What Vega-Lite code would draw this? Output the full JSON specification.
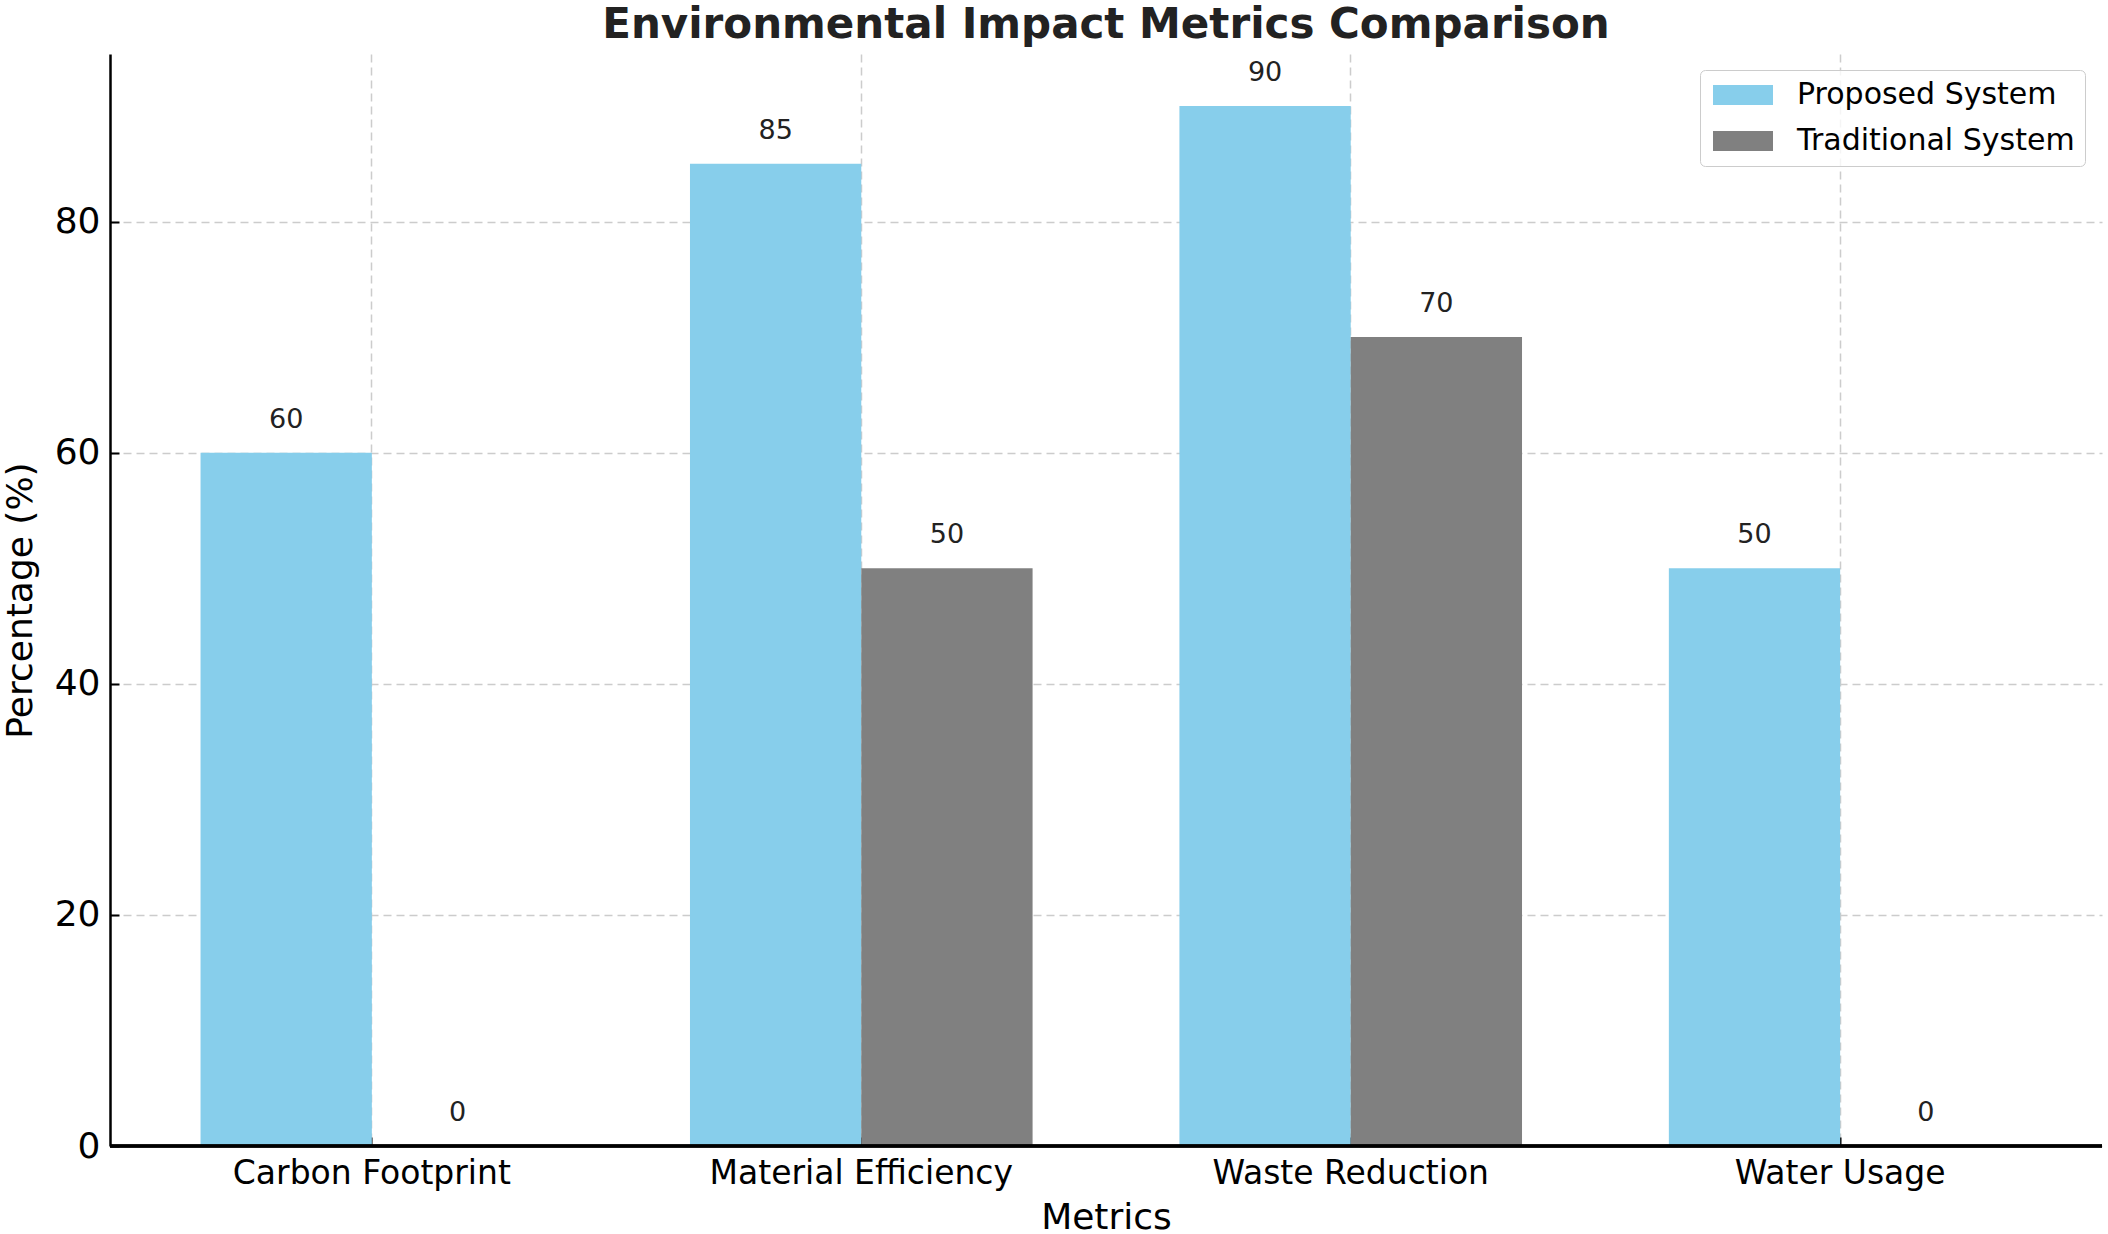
{
  "$schema": "https://vega.github.io/schema/vega-lite/v6.json",
  "width": 1992,
  "height": 1092,
  "autosize": {"type": "none"},
  "padding": {"left": 110, "top": 54, "right": 6, "bottom": 88},
  "background": "white",
  "title": {"text": "Environmental Impact Metrics Comparison", "fontSize": 42, "font": "DejaVu Sans", "fontWeight": "bold", "color": "#222222", "anchor": "middle", "offset": 7, "frame": "group"},
  "config": {"view": {"stroke": null}, "font": "DejaVu Sans"},
  "data": {"values": [
    {"metric": "Carbon Footprint", "system": "Proposed System", "value": 60},
    {"metric": "Carbon Footprint", "system": "Traditional System", "value": 0},
    {"metric": "Material Efficiency", "system": "Proposed System", "value": 85},
    {"metric": "Material Efficiency", "system": "Traditional System", "value": 50},
    {"metric": "Waste Reduction", "system": "Proposed System", "value": 90},
    {"metric": "Waste Reduction", "system": "Traditional System", "value": 70},
    {"metric": "Water Usage", "system": "Proposed System", "value": 50},
    {"metric": "Water Usage", "system": "Traditional System", "value": 0}
  ]},
  "layer": [
    {
      "mark": {"type": "bar"},
      "encoding": {
        "x": {"field": "metric", "type": "nominal", "sort": null,
          "scale": {"paddingInner": 0.3, "paddingOuter": 0.185},
          "axis": {"title": "Metrics", "labelAngle": 0, "labelLimit": 0, "grid": true, "gridColor": "#cccccc", "gridDash": [8, 5], "gridWidth": 1.5,
            "domain": false, "ticks": true, "tickSize": -9, "tickColor": "black", "tickWidth": 2, "labelPadding": 20,
            "labelFontSize": 33, "labelFont": "DejaVu Sans", "labelColor": "black",
            "titleFontSize": 36, "titleFont": "DejaVu Sans", "titleFontWeight": "normal", "titleColor": "black", "titlePadding": 10}},
        "xOffset": {"field": "system", "type": "nominal", "sort": ["Proposed System", "Traditional System"], "scale": {"paddingInner": 0, "paddingOuter": 0}},
        "y": {"field": "value", "type": "quantitative", "scale": {"domain": [0, 94.5], "nice": false},
          "axis": {"title": "Percentage (%)", "values": [0, 20, 40, 60, 80], "grid": true, "gridColor": "#cccccc", "gridDash": [8, 5], "gridWidth": 1.5,
            "domainColor": "black", "domainWidth": 2.5, "ticks": true, "tickSize": -9, "tickColor": "black", "tickWidth": 2, "labelPadding": 19,
            "labelFontSize": 36, "labelFont": "DejaVu Sans", "labelColor": "black",
            "titleFontSize": 36, "titleFont": "DejaVu Sans", "titleFontWeight": "normal", "titleColor": "black", "titlePadding": 15}},
        "color": {"field": "system", "type": "nominal",
          "scale": {"domain": ["Proposed System", "Traditional System"], "range": ["#87CEEB", "#808080"]},
          "legend": {"title": null, "orient": "none", "legendX": 1590, "legendY": 16, "direction": "vertical", "labelLimit": 0,
            "fillColor": "rgba(255,255,255,0.8)", "strokeColor": "#cccccc", "cornerRadius": 5, "padding": 10,
            "symbolType": "M-2,-0.667H2V0.667H-2Z", "symbolSize": 900, "symbolStrokeWidth": 0, "symbolOffset": 18, "symbolOpacity": 1,
            "labelOffset": 39, "labelFontSize": 30, "labelFont": "DejaVu Sans", "labelColor": "black", "rowPadding": 16}}
      }
    },
    {
      "mark": {"type": "text", "dy": -25, "baseline": "alphabetic", "fontSize": 27, "font": "DejaVu Sans", "color": "#222222"},
      "encoding": {
        "x": {"field": "metric", "type": "nominal", "sort": null},
        "xOffset": {"field": "system", "type": "nominal", "sort": ["Proposed System", "Traditional System"]},
        "y": {"field": "value", "type": "quantitative"},
        "text": {"field": "value", "type": "quantitative"}
      }
    },
    {
      "mark": {"type": "rule", "color": "black", "strokeWidth": 2.5},
      "encoding": {"y": {"datum": 0, "type": "quantitative"}}
    }
  ]
}
